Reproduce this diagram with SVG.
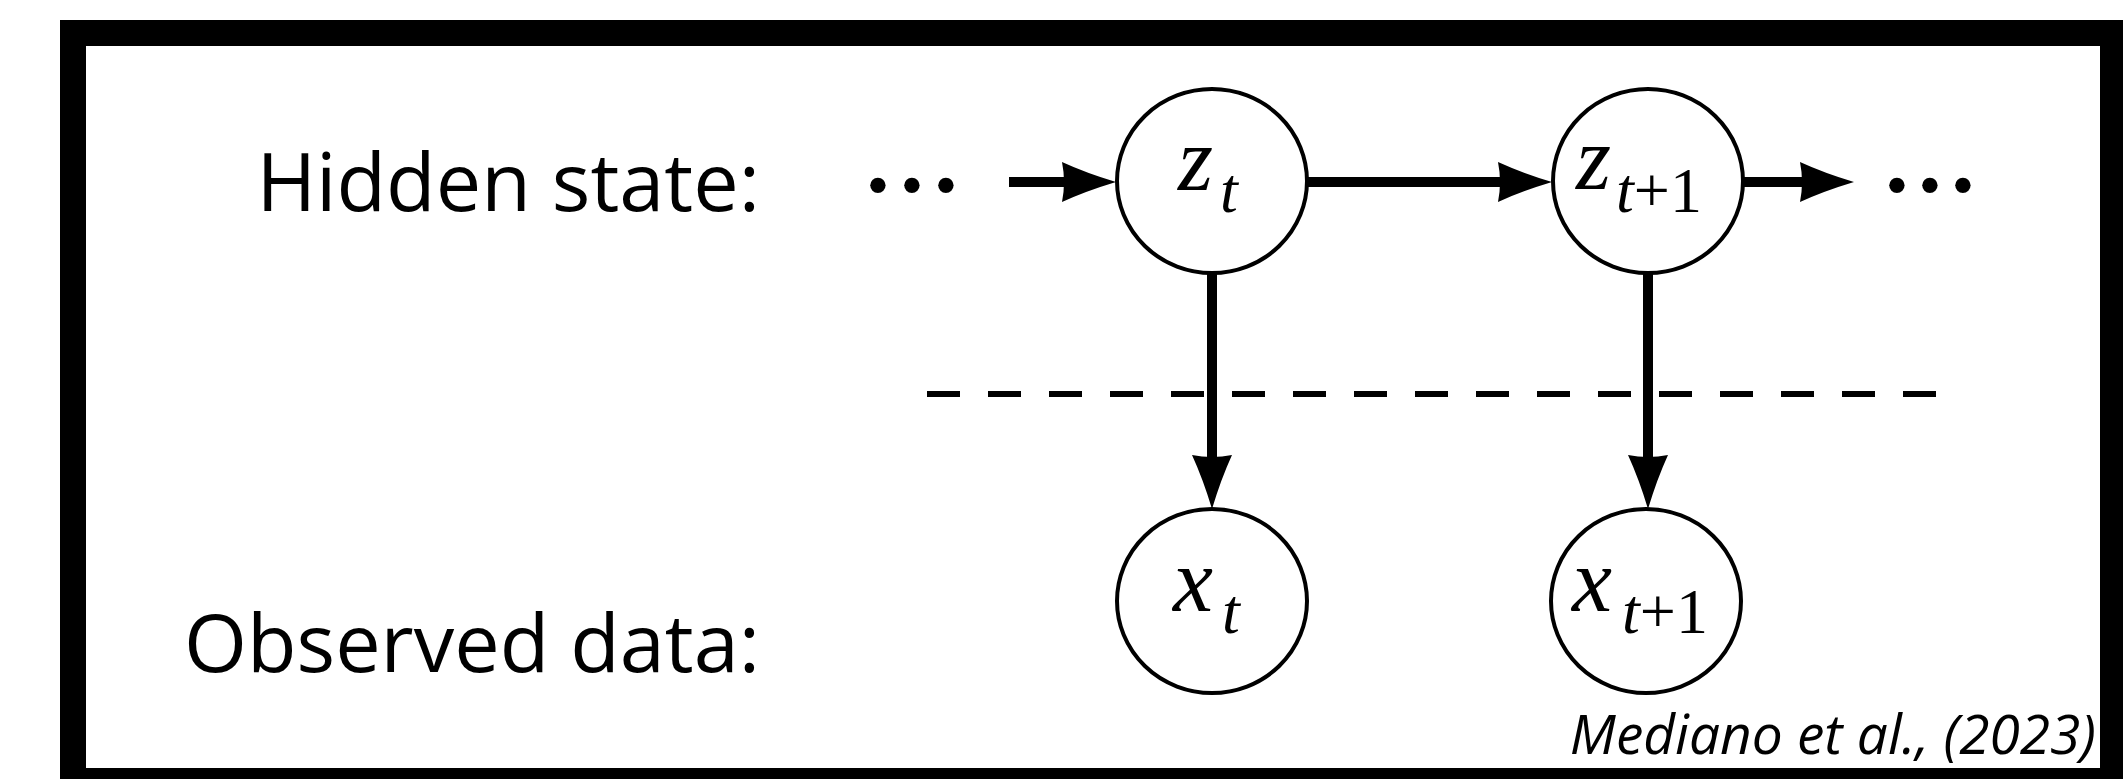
<svg xmlns="http://www.w3.org/2000/svg" width="2123" height="779" viewBox="0 0 2123 779">
  <style>
    .label { font-family: "Open Sans", "Noto Sans", sans-serif; font-size: 81px; fill: #000; }
    .cite { font-family: "Open Sans", "Noto Sans", sans-serif; font-style: italic; font-size: 55px; fill: #000; }
    .node { fill: #fff; stroke: #000; stroke-width: 4; }
    .math { font-family: "Liberation Serif", "Times New Roman", serif; font-style: italic; font-size: 90px; fill: #000; }
    .sub { font-family: "Liberation Serif", "Times New Roman", serif; font-size: 64px; fill: #000; }
    .dots { font-family: "Liberation Serif", "Times New Roman", serif; font-size: 130px; fill: #000; }
    .edge { stroke: #000; stroke-width: 10; fill: none; }
    .head { fill: #000; stroke: none; }
    .dash { stroke: #000; stroke-width: 6; stroke-dasharray: 33 28; fill: none; }
  </style>
  <defs>
    <!-- arrowhead pointing right, tip at origin -->
    <path id="ahead" d="M0,0 Q-30,-9 -54,-20 Q-50,0 -54,20 Q-30,9 0,0 Z"/>
  </defs>

  <!-- page and frame -->
  <rect x="0" y="0" width="2123" height="779" fill="#fff"/>
  <path d="M60,20 H2123 V779 H60 Z M86,46 V768 H2100 V46 Z" fill="#000" fill-rule="evenodd"/>

  <!-- row labels -->
  <text class="label" x="760" y="211" text-anchor="end">Hidden state:</text>
  <text class="label" x="760" y="672" text-anchor="end">Observed data:</text>

  <!-- continuation dots -->
  <text class="dots" x="878 912 946" y="228" text-anchor="middle">···</text>
  <text class="dots" x="1897 1930 1963" y="228" text-anchor="middle">···</text>

  <!-- separator between hidden and observed layers -->
  <line class="dash" x1="927" y1="394" x2="1940" y2="394"/>

  <!-- connectors -->
  <g id="edges">
    <line class="edge" x1="1009" y1="182" x2="1070" y2="182"/>
    <use href="#ahead" class="head" transform="translate(1116,182)"/>

    <line class="edge" x1="1306" y1="182" x2="1505" y2="182"/>
    <use href="#ahead" class="head" transform="translate(1552,182)"/>

    <line class="edge" x1="1742" y1="182" x2="1805" y2="182"/>
    <use href="#ahead" class="head" transform="translate(1854,182)"/>

    <line class="edge" x1="1212" y1="271" x2="1212" y2="465"/>
    <use href="#ahead" class="head" transform="translate(1212,509) rotate(90)"/>

    <line class="edge" x1="1648" y1="272" x2="1648" y2="465"/>
    <use href="#ahead" class="head" transform="translate(1648,509) rotate(90)"/>
  </g>

  <!-- hidden state nodes -->
  <g id="z_t">
    <ellipse class="node" cx="1212" cy="181" rx="95" ry="92"/>
    <text class="math" x="1178" y="190">z</text>
    <text class="sub" x="1220" y="212" font-style="italic">t</text>
  </g>
  <g id="z_t1">
    <ellipse class="node" cx="1648" cy="181" rx="95" ry="92"/>
    <text class="math" x="1576" y="189">z</text>
    <text class="sub" x="1616" y="212"><tspan font-style="italic">t</tspan>+1</text>
  </g>

  <!-- observed nodes -->
  <g id="x_t">
    <ellipse class="node" cx="1212" cy="601" rx="95" ry="92"/>
    <text class="math" x="1173" y="611">x</text>
    <text class="sub" x="1222" y="633" font-style="italic">t</text>
  </g>
  <g id="x_t1">
    <ellipse class="node" cx="1646" cy="601" rx="95" ry="92"/>
    <text class="math" x="1572" y="611">x</text>
    <text class="sub" x="1622" y="633"><tspan font-style="italic">t</tspan>+1</text>
  </g>

  <!-- source -->
  <text class="cite" x="2096" y="754" text-anchor="end">Mediano et al., (2023)</text>
</svg>
